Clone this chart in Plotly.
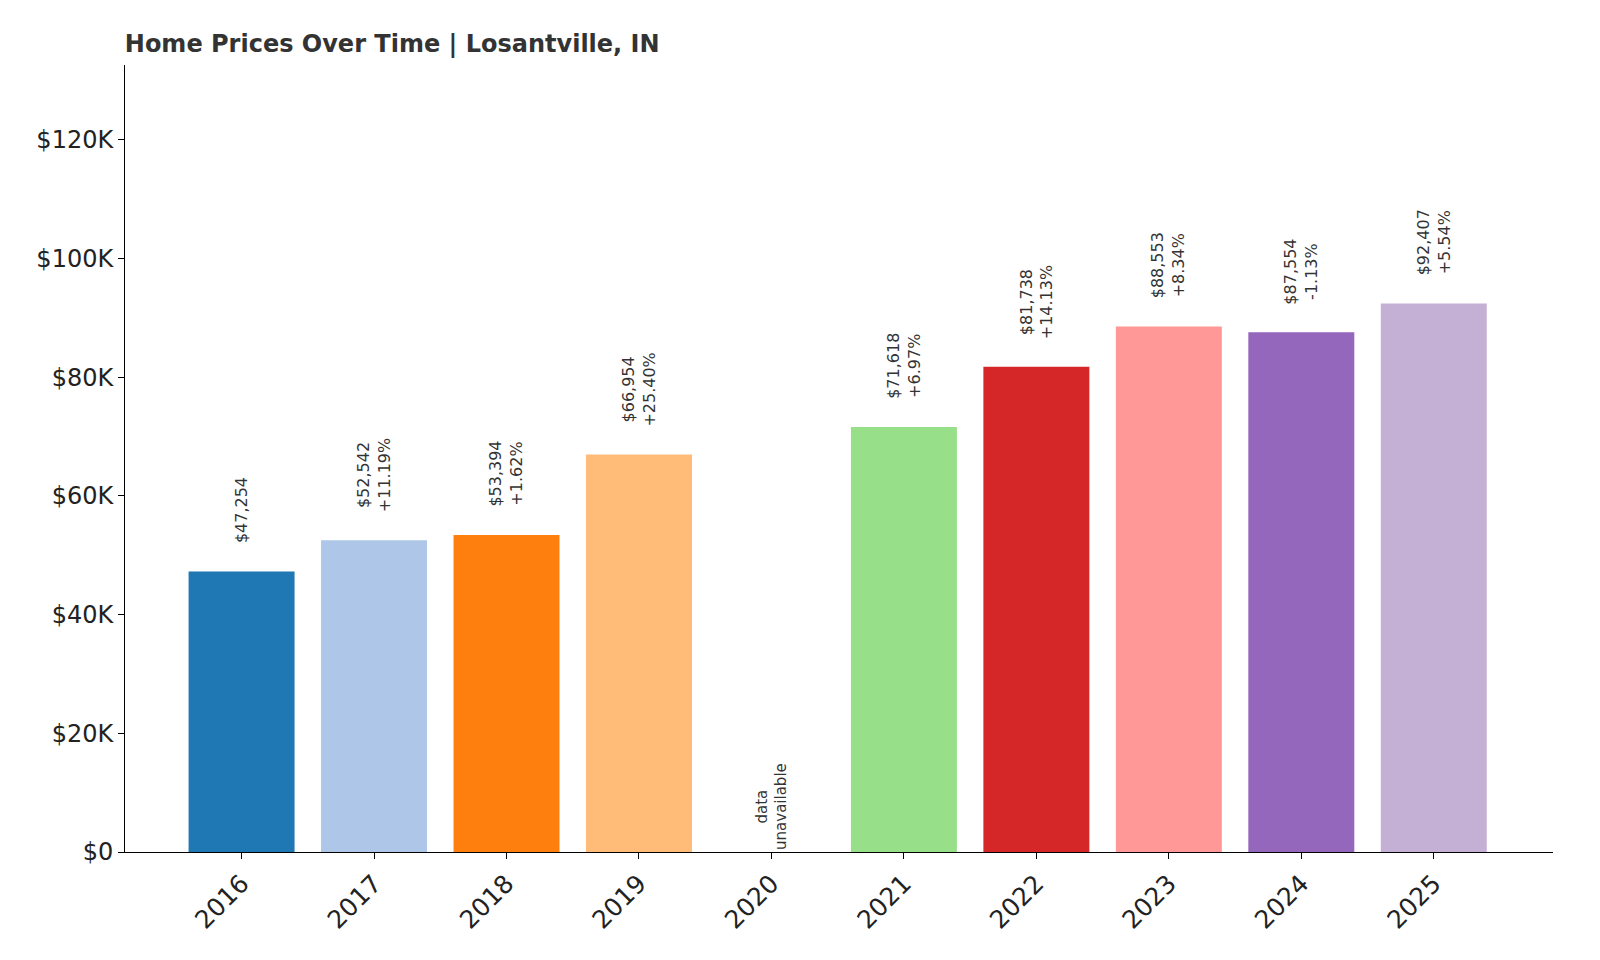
import plotly.graph_objects as go

years = ["2016","2017","2018","2019","2020","2021","2022","2023","2024","2025"]
values = [47254, 52542, 53394, 66954, None, 71618, 81738, 88553, 87554, 92407]
changes = [None, "+11.19%", "+1.62%", "+25.40%", None, "+6.97%", "+14.13%", "+8.34%", "-1.13%", "+5.54%"]
colors = ["#1f77b4","#aec7e8","#ff7f0e","#ffbb78","#cccccc","#98df8a","#d62728","#ff9896","#9467bd","#c5b0d5"]

fig = go.Figure(go.Bar(x=years, y=[v if v is not None else 0 for v in values],
                       marker_color=colors, width=0.8, marker_line_width=0))

for i, (yr, v, c) in enumerate(zip(years, values, changes)):
    if v is None:
        fig.add_annotation(x=i, y=0, text="data<br>unavailable", textangle=-90, showarrow=False,
                           yanchor="bottom", font=dict(size=15, color="#333"))
        continue
    txt = f"${v:,}" + (f"<br>{c}" if c else "")
    fig.add_annotation(x=i, y=v, text=txt, textangle=-90, showarrow=False, yanchor="bottom",
                       yshift=26, font=dict(size=16, color="#333"))

fig.update_layout(
    width=1600, height=960, plot_bgcolor="white", paper_bgcolor="white",
    font=dict(family="DejaVu Sans", color="#222"),
    margin=dict(l=117, r=55, t=57, b=116),
    showlegend=False,
    title=dict(text="<b>Home Prices Over Time | Losantville, IN</b>", x=0.073, xanchor="left",
               y=0.963, yanchor="middle", font=dict(size=24, color="#333")),
    xaxis=dict(type="category", range=[-0.88, 9.9], tickangle=-45, tickfont=dict(size=25), showline=True,
               linecolor="black", ticks="outside", ticklen=6, tickcolor="black"),
    yaxis=dict(range=[0, 132600], tickvals=[0,20000,40000,60000,80000,100000,120000],
               ticktext=["$0","$20K","$40K","$60K","$80K","$100K","$120K"], tickfont=dict(size=24),
               showline=True, linecolor="black", ticks="outside", ticklen=6, tickcolor="black",
               showgrid=False, zeroline=False),
)
fig.write_html("out.html")
